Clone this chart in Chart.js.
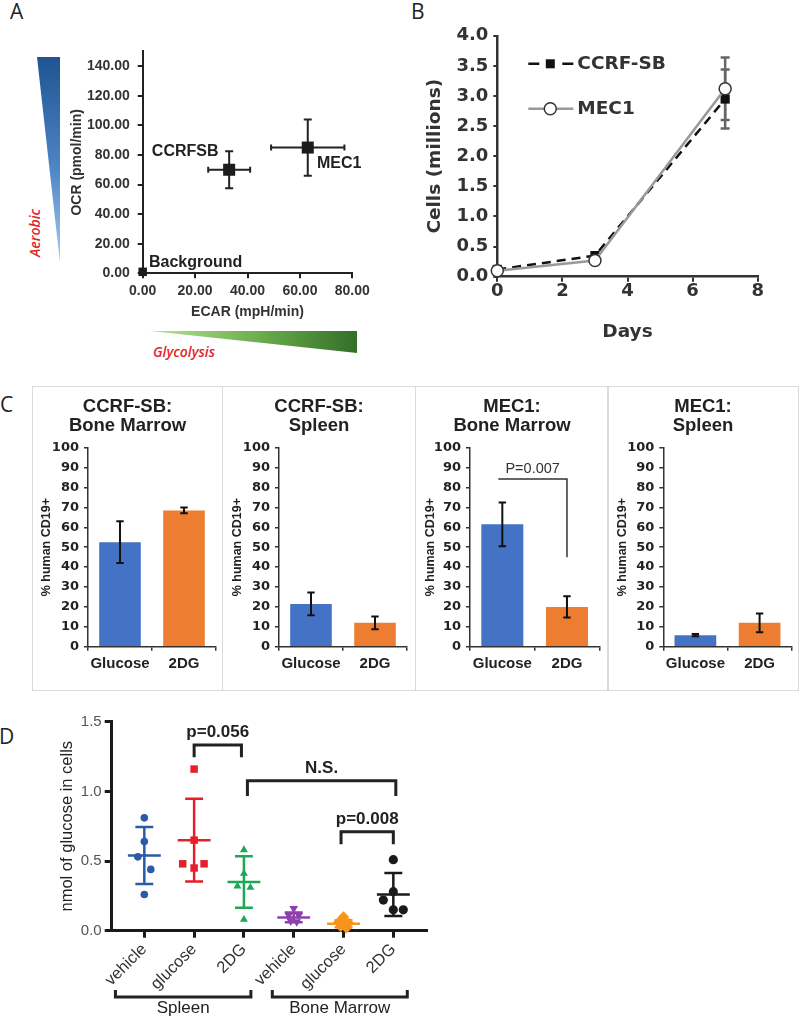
<!DOCTYPE html>
<html><head><meta charset="utf-8">
<script src="https://cdn.jsdelivr.net/npm/chart.js@4.4.0/dist/chart.umd.min.js"></script>
<style>
body{margin:0;background:#fff;width:800px;height:1016px;position:relative;overflow:hidden;font-family:'Liberation Sans',Arial,sans-serif;}
canvas{position:absolute;}
.let{position:absolute;font-family:'Open Sans',sans-serif;font-size:21px;color:#222;line-height:1;}
.box{position:absolute;border:1.5px solid #dadada;box-sizing:border-box;}
.tri{position:absolute;clip-path:polygon(0 0,100% 0,100% 100%);}
.red{position:absolute;font-family:'Open Sans',sans-serif;font-style:italic;font-weight:600;font-size:14px;color:#e0262b;white-space:nowrap;line-height:1;}
</style></head><body>
<div class="let" style="left:10px;top:1px">A</div>
<div class="let" style="left:411px;top:1px">B</div>
<div class="let" style="left:0px;top:394px">C</div>
<div class="let" style="left:-1px;top:726px">D</div>
<div class="tri" style="left:37px;top:57px;width:23px;height:206px;background:linear-gradient(to bottom,#1f5491,#4f86c6 55%,#a8cdf2);"></div>
<div class="tri" style="left:150px;top:331px;width:207px;height:22px;background:linear-gradient(to right,#b9e396,#6fb04f 50%,#336f28);"></div>
<div class="red" style="left:35px;top:233px;transform:translate(-50%,-50%) rotate(-90deg);">Aerobic</div>
<div class="red" style="left:184px;top:352px;transform:translate(-50%,-50%);">Glycolysis</div>
<div class="box" style="left:32px;top:386px;width:191px;height:305px"></div>
<div class="box" style="left:222px;top:386px;width:194px;height:305px"></div>
<div class="box" style="left:415px;top:386px;width:194px;height:305px"></div>
<div class="box" style="left:607px;top:386px;width:192px;height:305px"></div>
<script>
// ---------- DATA ----------
// Panel A
const cellLines = ['CCRFSB', 'MEC1', 'Background'];
const ecar = [33, 63, 0];
const ecarErr = [8, 14, 0];
const ocr = [70, 85, 1];
const ocrErr = [12.5, 19, 0];
const ecarTicks = [0, 20, 40, 60, 80];
const ocrTicks = [0, 20, 40, 60, 80, 100, 120, 140];
// Panel B
const days = [0, 3, 7];
const ccrfCells = [0.12, 0.35, 2.95];
const ccrfErr = [0, 0, 0.49];
const mec1Cells = [0.10, 0.27, 3.12];
const mec1Err = [0, 0, 0.52];
const dayTicks = [0, 2, 4, 6, 8];
const cellTicks = [0, 0.5, 1, 1.5, 2, 2.5, 3, 3.5, 4];
// Panel C
const cTreat = ['Glucose', '2DG'];
const cTitles = [['CCRF-SB:', 'Bone Marrow'], ['CCRF-SB:', 'Spleen'], ['MEC1:', 'Bone Marrow'], ['MEC1:', 'Spleen']];
const cMeans = [[52.5, 68.5], [21.5, 12], [61.5, 20], [5.8, 12]];
const cErrs = [[10.5, 1.5], [5.7, 3.2], [11, 5.3], [0.6, 4.7]];
const cTicks = [0, 10, 20, 30, 40, 50, 60, 70, 80, 90, 100];
// Panel D
const dLabels = ['vehicle', 'glucose', '2DG', 'vehicle', 'glucose', '2DG'];
const dGroups = ['Spleen', 'Bone Marrow'];
const dVals = [
  [0.81, 0.64, 0.53, 0.44, 0.26],
  [1.16, 0.65, 0.48, 0.48, 0.45],
  [0.58, 0.41, 0.32, 0.31, 0.08],
  [0.16, 0.11, 0.11, 0.07, 0.065],
  [0.10, 0.06, 0.055, 0.03, 0.02],
  [0.51, 0.28, 0.22, 0.15, 0.15]
];
const dJitter = [
  [0, 0, -0.13, 0.13, 0],
  [0, 0, -0.23, 0.2, 0],
  [0, 0, -0.13, 0.13, 0],
  [0, -0.1, 0.1, -0.06, 0.06],
  [0, -0.1, 0.1, -0.06, 0.06],
  [0, 0, -0.2, 0, 0.2]
];
const dMean = [0.54, 0.65, 0.35, 0.095, 0.05, 0.26];
const dSd = [0.205, 0.297, 0.185, 0.035, 0.025, 0.155];
const dTicksY = [0, 0.5, 1.0, 1.5];
const dTicksX = [0, 1, 2, 3, 4, 5];
const dSig = [
  {text: 'p=0.056', from: 1.0, to: 1.95, top: 1.332, drop: 1.244},
  {text: 'N.S.', from: 2.07, to: 5.05, top: 1.076, drop: 0.966},
  {text: 'p=0.008', from: 3.95, to: 5.0, top: 0.71, drop: 0.62}
];

// ---------- SETUP ----------
Chart.defaults.font.family = "'Liberation Sans', Arial, sans-serif";
Chart.defaults.color = '#222';
Chart.defaults.animation = false;
Chart.defaults.responsive = false;
Chart.defaults.devicePixelRatio = 1;
Chart.defaults.plugins.legend.display = false;
Chart.defaults.plugins.tooltip.enabled = false;

function mk(b) {
  const c = document.createElement('canvas');
  c.width = b.w; c.height = b.h;
  c.style.left = b.x + 'px'; c.style.top = b.y + 'px';
  c.style.width = b.w + 'px'; c.style.height = b.h + 'px';
  document.body.appendChild(c);
  return c;
}
function pad(b, a) { return {left: 0, top: a.t - b.y, right: b.x + b.w - a.r, bottom: 0}; }
const tk = arr => s => { s.ticks = arr.map(v => ({value: v})); };

// ---------- PANEL A ----------
const A_BOX = {x: 55, y: 35, w: 340, h: 290};
const A_AREA = {l: 142.7, t: 48.3, r: 352.3, b: 273.3};
const A_LABELPOS = [{x: 3.5, y: 82.2}, {x: 66.5, y: 74.2}, {x: 2.4, y: 6.9}];
const errA = {id: 'errA', beforeDatasetsDraw(c) {
  const ctx = c.ctx, xs = c.scales.x, ys = c.scales.y;
  ctx.save(); ctx.strokeStyle = '#222'; ctx.lineWidth = 2;
  ecar.forEach((e, i) => {
    if (!ecarErr[i] && !ocrErr[i]) return;
    const px = xs.getPixelForValue(e), py = ys.getPixelForValue(ocr[i]);
    const x1 = xs.getPixelForValue(e - ecarErr[i]), x2 = xs.getPixelForValue(e + ecarErr[i]);
    const y1 = ys.getPixelForValue(ocr[i] - ocrErr[i]), y2 = ys.getPixelForValue(ocr[i] + ocrErr[i]);
    ctx.beginPath();
    ctx.moveTo(x1, py); ctx.lineTo(x2, py);
    ctx.moveTo(x1, py - 3); ctx.lineTo(x1, py + 3);
    ctx.moveTo(x2, py - 3); ctx.lineTo(x2, py + 3);
    ctx.moveTo(px, y1); ctx.lineTo(px, y2);
    ctx.moveTo(px - 4, y1); ctx.lineTo(px + 4, y1);
    ctx.moveTo(px - 4, y2); ctx.lineTo(px + 4, y2);
    ctx.stroke();
  });
  ctx.restore();
}};
const labA = {id: 'labA', afterDatasetsDraw(c) {
  const ctx = c.ctx; ctx.save();
  ctx.font = "bold 16px 'Liberation Sans', Arial"; ctx.fillStyle = '#222';
  ctx.textBaseline = 'middle'; ctx.textAlign = 'left';
  cellLines.forEach((t, i) => ctx.fillText(t, c.scales.x.getPixelForValue(A_LABELPOS[i].x), c.scales.y.getPixelForValue(A_LABELPOS[i].y)));
  ctx.restore();
}};
new Chart(mk(A_BOX), {
  type: 'scatter',
  data: {datasets: [{data: ecar.map((x, i) => ({x, y: ocr[i]})), pointStyle: 'rect', pointRadius: [8.5, 8.5, 6], backgroundColor: '#1c1c1c', borderWidth: 0, clip: false}]},
  options: {
    layout: {padding: pad(A_BOX, A_AREA)},
    scales: {
      x: {type: 'linear', min: 0, max: 80, afterBuildTicks: tk(ecarTicks), afterFit: s => { s.height = A_BOX.y + A_BOX.h - A_AREA.b; },
        ticks: {callback: v => v.toFixed(2), font: {size: 14, weight: 'bold'}, color: '#333', padding: 4, maxRotation: 0, autoSkip: false},
        grid: {drawOnChartArea: false, tickLength: 5, color: '#222', lineWidth: 2},
        border: {color: '#222', width: 2},
        title: {display: true, text: 'ECAR (mpH/min)', font: {size: 14, weight: 'bold'}, color: '#333', padding: {top: 0, bottom: 4.6}}},
      y: {type: 'linear', min: 0, max: 150, afterBuildTicks: tk(ocrTicks), afterFit: s => { s.width = A_AREA.l - A_BOX.x; },
        ticks: {callback: v => v.toFixed(2), font: {size: 14, weight: 'bold'}, color: '#333', padding: 8, autoSkip: false},
        grid: {drawOnChartArea: false, tickLength: 5, color: '#222', lineWidth: 2},
        border: {color: '#222', width: 2},
        title: {display: true, text: 'OCR (pmol/min)', font: {size: 14, weight: 'bold'}, color: '#333', padding: {top: 13.6, bottom: 0}}}
    }
  },
  plugins: [errA, labA]
});

// ---------- PANEL B ----------
const B_BOX = {x: 420, y: 20, w: 365, h: 325};
const B_AREA = {l: 497.3, t: 35, r: 757.7, b: 276.7};
const BFONT = "'DejaVu Sans', sans-serif";
const errB = {id: 'errB', beforeDatasetsDraw(c) {
  const ctx = c.ctx, xs = c.scales.x, ys = c.scales.y;
  ctx.save(); ctx.strokeStyle = '#666'; ctx.lineWidth = 2.5;
  [[ccrfCells, ccrfErr], [mec1Cells, mec1Err]].forEach(([vals, errs]) => {
    vals.forEach((v, i) => {
      if (!errs[i]) return;
      const px = xs.getPixelForValue(days[i]);
      const y1 = ys.getPixelForValue(v - errs[i]), y2 = ys.getPixelForValue(v + errs[i]);
      ctx.beginPath();
      ctx.moveTo(px, y1); ctx.lineTo(px, y2);
      ctx.moveTo(px - 4.5, y1); ctx.lineTo(px + 4.5, y1);
      ctx.moveTo(px - 4.5, y2); ctx.lineTo(px + 4.5, y2);
      ctx.stroke();
    });
  });
  ctx.restore();
}};
const legB = {id: 'legB', afterDatasetsDraw(c) {
  const ctx = c.ctx, L = c.chartArea.left, T = c.chartArea.top;
  const x0 = L + 31, x1 = L + 76, xm = L + 53, y1 = T + 28, y2 = T + 73;
  ctx.save();
  ctx.strokeStyle = '#111'; ctx.lineWidth = 2.5;
  ctx.beginPath(); ctx.moveTo(x0, y1); ctx.lineTo(x0 + 11, y1); ctx.moveTo(x1 - 11, y1); ctx.lineTo(x1, y1); ctx.stroke();
  ctx.fillStyle = '#111'; ctx.fillRect(xm - 4.5, y1 - 4.5, 9, 9);
  ctx.strokeStyle = '#999'; ctx.beginPath(); ctx.moveTo(x0, y2); ctx.lineTo(x1, y2); ctx.stroke();
  ctx.beginPath(); ctx.arc(xm, y2, 6, 0, Math.PI * 2); ctx.fillStyle = '#fff'; ctx.fill();
  ctx.strokeStyle = '#333'; ctx.lineWidth = 1.5; ctx.stroke();
  ctx.fillStyle = '#333'; ctx.font = 'bold 18.5px ' + BFONT; ctx.textBaseline = 'middle'; ctx.textAlign = 'left';
  ctx.fillText('CCRF-SB', x1 + 4, y1); ctx.fillText('MEC1', x1 + 4, y2);
  ctx.restore();
}};
new Chart(mk(B_BOX), {
  type: 'line',
  data: {datasets: [
    {label: 'CCRF-SB', data: days.map((d, i) => ({x: d, y: ccrfCells[i]})), borderColor: '#111', borderDash: [9, 6], borderWidth: 2.5, pointStyle: 'rect', pointRadius: 6.5, pointBackgroundColor: '#111', pointBorderWidth: 0, order: 1, clip: false},
    {label: 'MEC1', data: days.map((d, i) => ({x: d, y: mec1Cells[i]})), borderColor: '#999', borderWidth: 2.5, pointStyle: 'circle', pointRadius: 6, pointBackgroundColor: '#fff', pointBorderColor: '#333', pointBorderWidth: 1.5, order: 0, clip: false}
  ]},
  options: {
    layout: {padding: pad(B_BOX, B_AREA)},
    scales: {
      x: {type: 'linear', min: 0, max: 8, afterBuildTicks: tk(dayTicks), afterFit: s => { s.height = B_BOX.y + B_BOX.h - B_AREA.b; },
        ticks: {font: {family: BFONT, size: 18, weight: 'bold'}, color: '#333', padding: -1, maxRotation: 0, autoSkip: false},
        grid: {drawOnChartArea: false, tickLength: 5, color: '#333', lineWidth: 2},
        border: {color: '#333', width: 2.5},
        title: {display: true, text: 'Days', font: {family: BFONT, size: 18.5, weight: 'bold'}, color: '#333', padding: {top: 0, bottom: 1.9}}},
      y: {type: 'linear', min: 0, max: 4, afterBuildTicks: tk(cellTicks), afterFit: s => { s.width = B_AREA.l - B_BOX.x; },
        ticks: {callback: v => v.toFixed(1), font: {family: BFONT, size: 18, weight: 'bold'}, color: '#333', padding: 5, autoSkip: false},
        grid: {drawOnChartArea: false, tickLength: 4, color: '#333', lineWidth: 2},
        border: {color: '#333', width: 2.5},
        title: {display: true, text: 'Cells (millions)', font: {family: BFONT, size: 18.5, weight: 'bold'}, color: '#333', padding: {top: 3.9, bottom: 0}}}
    }
  },
  plugins: [errB, legB]
});

// ---------- PANEL C ----------
const C_BOXES = [{x: 33, y: 388, w: 189, h: 301}, {x: 224, y: 388, w: 190, h: 301}, {x: 417, y: 388, w: 190, h: 301}, {x: 609, y: 388, w: 188, h: 301}];
const C_AREAS = [{l: 88, r: 216}, {l: 279, r: 407}, {l: 470, r: 599.3}, {l: 663.3, r: 791.7}].map(a => ({...a, t: 447.7, b: 646.7}));
const C_SIG = {panel: 2, text: 'P=0.007', y: 84.3, drop: 45, textY: 89.5};
cTitles.forEach((title, i) => {
  const B = C_BOXES[i], A = C_AREAS[i];
  const errC = {id: 'errC', afterDatasetsDraw(c) {
    const ctx = c.ctx, xs = c.scales.x, ys = c.scales.y;
    ctx.save(); ctx.strokeStyle = '#111'; ctx.lineWidth = 2;
    cMeans[i].forEach((m, j) => {
      const px = xs.getPixelForValue(j);
      const y1 = ys.getPixelForValue(m - cErrs[i][j]), y2 = ys.getPixelForValue(m + cErrs[i][j]);
      ctx.beginPath();
      ctx.moveTo(px, y1); ctx.lineTo(px, y2);
      ctx.moveTo(px - 3.7, y1); ctx.lineTo(px + 3.7, y1);
      ctx.moveTo(px - 3.7, y2); ctx.lineTo(px + 3.7, y2);
      ctx.stroke();
    });
    if (i === C_SIG.panel) {
      const xa = xs.getPixelForValue(0) - 4, xb = xs.getPixelForValue(1);
      const yt = ys.getPixelForValue(C_SIG.y), yd = ys.getPixelForValue(C_SIG.drop);
      ctx.strokeStyle = '#333'; ctx.lineWidth = 1.5;
      ctx.beginPath(); ctx.moveTo(xa, yt); ctx.lineTo(xb, yt); ctx.lineTo(xb, yd); ctx.stroke();
      ctx.fillStyle = '#333'; ctx.font = "14.5px 'Liberation Sans', Arial"; ctx.textAlign = 'center'; ctx.textBaseline = 'middle';
      ctx.fillText(C_SIG.text, (xa + xb) / 2, ys.getPixelForValue(C_SIG.textY));
    }
    ctx.restore();
  }};
  const titleC = {id: 'titleC', afterDraw(c) {
    const ctx = c.ctx; ctx.save();
    ctx.fillStyle = '#222'; ctx.font = "bold 18.5px 'Liberation Sans', Arial"; ctx.textAlign = 'center'; ctx.textBaseline = 'middle';
    ctx.fillText(title[0], c.width / 2, 407 - B.y);
    ctx.fillText(title[1], c.width / 2, 426 - B.y);
    ctx.restore();
  }};
  new Chart(mk(B), {
    type: 'bar',
    data: {labels: cTreat, datasets: [{data: cMeans[i], backgroundColor: ['#4472C4', '#ED7D31'], barPercentage: 0.65, categoryPercentage: 1.0, borderWidth: 0}]},
    options: {
      layout: {padding: pad(B, A)},
      scales: {
        x: {afterFit: s => { s.height = B.y + B.h - A.b; },
          ticks: {font: {size: 15, weight: 'bold'}, color: '#222', padding: 4, maxRotation: 0, autoSkip: false},
          grid: {drawOnChartArea: false, tickLength: 4, color: '#333', lineWidth: 1.5},
          border: {color: '#333', width: 1.5}},
        y: {min: 0, max: 100, afterBuildTicks: tk(cTicks), afterFit: s => { s.width = A.l - B.x; },
          ticks: {font: {family: "'DejaVu Sans', sans-serif", size: 13, weight: 'bold'}, color: '#222', padding: 5, autoSkip: false},
          grid: {drawOnChartArea: false, tickLength: 4, color: '#333', lineWidth: 1.5},
          border: {color: '#333', width: 1.5},
          title: {display: true, text: '% human CD19+', font: {size: 12.5, weight: 'bold'}, color: '#222', padding: {top: 6.5, bottom: 0}}}
      }
    },
    plugins: [errC, titleC]
  });
});

// ---------- PANEL D ----------
const D_BOX = {x: 45, y: 705, w: 395, h: 311};
const D_AREA = {l: 111.7, t: 721.7, r: 426.7, b: 930.7};
const D_GROUPSPAN = [{from: -0.58, to: 2.14}, {from: 2.57, to: 5.28}];
const dColors = ['#2b5ba8', '#e5202b', '#1ba955', '#8e3fae', '#f7941d', '#1a1a1a'];
const dStyles = [{s: 'circle', r: 3.8, rot: 0}, {s: 'rect', r: 5.3, rot: 0}, {s: 'triangle', r: 4.6, rot: 0}, {s: 'triangle', r: 5, rot: 180}, {s: 'rectRot', r: 5.5, rot: 0}, {s: 'circle', r: 4.6, rot: 0}];
const meanD = {id: 'meanD', beforeDatasetsDraw(c) {
  const ctx = c.ctx, xs = c.scales.x, ys = c.scales.y;
  ctx.save(); ctx.lineWidth = 2.5;
  dMean.forEach((m, g) => {
    ctx.strokeStyle = dColors[g];
    const y0 = ys.getPixelForValue(m), y1 = ys.getPixelForValue(m - dSd[g]), y2 = ys.getPixelForValue(m + dSd[g]);
    const xc = xs.getPixelForValue(g);
    const mw = xs.getPixelForValue(g + 0.33) - xc, cw = xs.getPixelForValue(g + 0.18) - xc;
    ctx.beginPath();
    ctx.moveTo(xc - mw, y0); ctx.lineTo(xc + mw, y0);
    ctx.moveTo(xc, y1); ctx.lineTo(xc, y2);
    ctx.moveTo(xc - cw, y1); ctx.lineTo(xc + cw, y1);
    ctx.moveTo(xc - cw, y2); ctx.lineTo(xc + cw, y2);
    ctx.stroke();
  });
  ctx.restore();
}};
const sigD = {id: 'sigD', afterDatasetsDraw(c) {
  const ctx = c.ctx, xs = c.scales.x, ys = c.scales.y;
  ctx.save(); ctx.strokeStyle = '#222'; ctx.lineWidth = 3; ctx.fillStyle = '#222';
  ctx.font = "bold 17px 'Liberation Sans', Arial"; ctx.textAlign = 'center'; ctx.textBaseline = 'alphabetic';
  dSig.forEach(s => {
    const xa = xs.getPixelForValue(s.from), xb = xs.getPixelForValue(s.to);
    const yt = ys.getPixelForValue(s.top), yd = ys.getPixelForValue(s.drop);
    ctx.beginPath(); ctx.moveTo(xa, yd); ctx.lineTo(xa, yt); ctx.lineTo(xb, yt); ctx.lineTo(xb, yd); ctx.stroke();
    ctx.fillText(s.text, (xa + xb) / 2, yt - 8);
  });
  // group brackets below the axis
  const yb = 997 - D_BOX.y, yu = 990 - D_BOX.y;
  ctx.font = "17px 'Liberation Sans', Arial"; ctx.textBaseline = 'middle';
  dGroups.forEach((gname, k) => {
    const xa = xs.getPixelForValue(D_GROUPSPAN[k].from), xb = xs.getPixelForValue(D_GROUPSPAN[k].to);
    ctx.beginPath(); ctx.moveTo(xa, yu); ctx.lineTo(xa, yb); ctx.lineTo(xb, yb); ctx.lineTo(xb, yu); ctx.stroke();
    ctx.fillText(gname, (xa + xb) / 2, 1008 - D_BOX.y);
  });
  ctx.restore();
}};
new Chart(mk(D_BOX), {
  type: 'scatter',
  data: {datasets: dVals.map((vals, g) => ({
    data: vals.map((v, k) => ({x: g + dJitter[g][k], y: v})),
    pointStyle: dStyles[g].s, pointRadius: dStyles[g].r, rotation: dStyles[g].rot,
    backgroundColor: dColors[g], borderColor: dColors[g], borderWidth: 0, clip: false
  }))},
  options: {
    layout: {padding: pad(D_BOX, D_AREA)},
    scales: {
      x: {type: 'linear', min: -0.655, max: 5.67, afterBuildTicks: tk(dTicksX), afterFit: s => { s.height = D_BOX.y + D_BOX.h - D_AREA.b; },
        ticks: {callback: v => dLabels[v], font: {size: 16.5}, color: '#333', padding: 2, minRotation: 45, maxRotation: 45, autoSkip: false},
        grid: {drawOnChartArea: false, tickLength: 7, color: '#1a1a1a', lineWidth: 3},
        border: {color: '#1a1a1a', width: 3}},
      y: {type: 'linear', min: 0, max: 1.5, afterBuildTicks: tk(dTicksY), afterFit: s => { s.width = D_AREA.l - D_BOX.x; },
        ticks: {callback: v => v.toFixed(1), font: {size: 15}, color: '#555', padding: 3, autoSkip: false},
        grid: {drawOnChartArea: false, tickLength: 7, color: '#1a1a1a', lineWidth: 3},
        border: {color: '#1a1a1a', width: 3},
        title: {display: true, text: 'nmol of glucose in cells', font: {size: 16.5}, color: '#222', padding: {top: 12.1, bottom: 0}}}
    }
  },
  plugins: [meanD, sigD]
});
</script>
</body></html>
